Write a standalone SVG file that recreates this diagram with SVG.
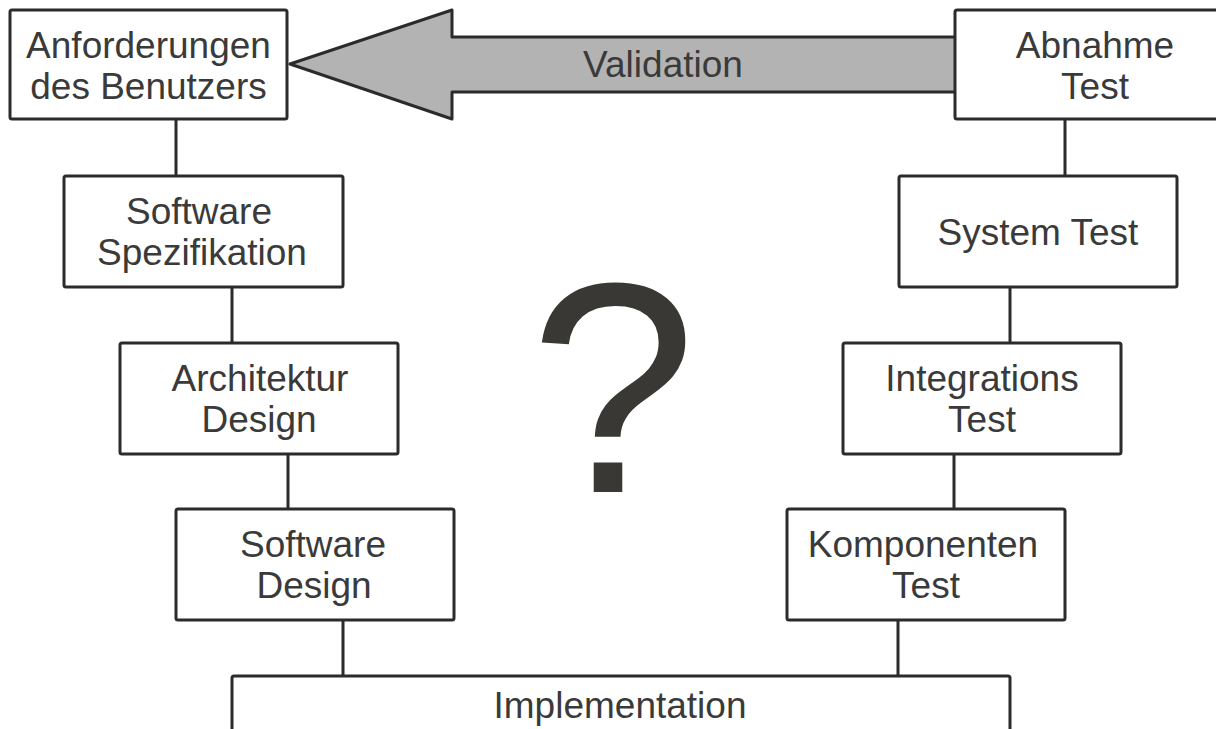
<svg xmlns="http://www.w3.org/2000/svg" width="1216" height="729" viewBox="0 0 1216 729">
<style>
.box{fill:#ffffff;stroke:#2b2b2b;stroke-width:3;stroke-linejoin:round}
.lbl{font-family:"Liberation Sans",Arial,sans-serif;font-size:37px;fill:#3a3a3a;text-anchor:middle}
.con{stroke:#2b2b2b;stroke-width:3;fill:none}
</style>
<rect width="1216" height="729" fill="#ffffff"/>
<g id="connectors">
<line class="con" x1="176" y1="119" x2="176" y2="176"/>
<line class="con" x1="232" y1="287" x2="232" y2="343"/>
<line class="con" x1="288" y1="454" x2="288" y2="509"/>
<line class="con" x1="343" y1="620" x2="343" y2="676"/>
<line class="con" x1="1065" y1="119" x2="1065" y2="176"/>
<line class="con" x1="1010" y1="287" x2="1010" y2="343"/>
<line class="con" x1="954" y1="454" x2="954" y2="509"/>
<line class="con" x1="898" y1="620" x2="898" y2="676"/>
</g>
<g id="validation">
<polygon points="290,64 452,10 452,37 960,37 960,92 452,92 452,119" fill="#b3b3b3" stroke="#2b2b2b" stroke-width="3" stroke-linejoin="round"/>
<text class="lbl" x="663" y="77">Validation</text>
</g>
<g id="anforderungen">
<rect class="box" x="10" y="10" width="277" height="109" rx="2"/>
<text class="lbl" x="148.5" y="58">Anforderungen</text>
<text class="lbl" x="148.5" y="99">des Benutzers</text>
</g>
<g id="spezifikation">
<rect class="box" x="64" y="176" width="279" height="111" rx="2"/>
<text class="lbl" x="199" y="224">Software</text>
<text class="lbl" x="202" y="265">Spezifikation</text>
</g>
<g id="architektur">
<rect class="box" x="120" y="343" width="278" height="111" rx="2"/>
<text class="lbl" x="260" y="391">Architektur</text>
<text class="lbl" x="259" y="432">Design</text>
</g>
<g id="swdesign">
<rect class="box" x="176" y="509" width="278" height="111" rx="2"/>
<text class="lbl" x="313" y="557">Software</text>
<text class="lbl" x="314" y="598">Design</text>
</g>
<g id="implementation">
<rect class="box" x="232" y="676" width="778" height="70" rx="2"/>
<text class="lbl" x="620" y="718">Implementation</text>
</g>
<g id="komponenten">
<rect class="box" x="787" y="509" width="278" height="111" rx="2"/>
<text class="lbl" x="923" y="557">Komponenten</text>
<text class="lbl" x="926" y="598">Test</text>
</g>
<g id="integrations">
<rect class="box" x="843" y="343" width="278" height="111" rx="2"/>
<text class="lbl" x="982" y="391">Integrations</text>
<text class="lbl" x="982" y="432">Test</text>
</g>
<g id="systemtest">
<rect class="box" x="899" y="176" width="278" height="111" rx="2"/>
<text class="lbl" x="1038" y="245">System Test</text>
</g>
<g id="abnahme">
<rect class="box" x="955" y="10" width="278" height="109" rx="2"/>
<text class="lbl" x="1095" y="58">Abnahme</text>
<text class="lbl" x="1095" y="99">Test</text>
</g>
<g id="question">
<text x="613" y="492" font-family="Liberation Sans,Arial,sans-serif" font-size="300" fill="#3a3835" text-anchor="middle">?</text>
</g>
</svg>
